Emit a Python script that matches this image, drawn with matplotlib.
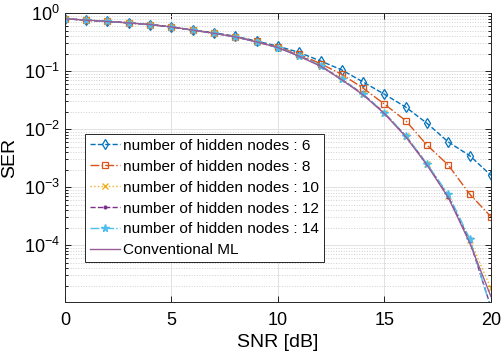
import matplotlib.pyplot as plt
from matplotlib.ticker import LogLocator, NullFormatter

plt.rcParams['font.family'] = ['Liberation Sans', 'DejaVu Sans']

snr = list(range(0, 21))

# SER
ser_6 = [0.80, 0.76, 0.72, 0.68, 0.635, 0.58, 0.51, 0.46, 0.40, 0.33, 0.27,
         0.21, 0.15, 0.105, 0.065, 0.040, 0.024, 0.0126, 0.006, 0.0035, 0.0016]
ser_8 = [0.80, 0.76, 0.72, 0.68, 0.635, 0.58, 0.51, 0.455, 0.395, 0.325, 0.26,
         0.195, 0.135, 0.088, 0.051, 0.027, 0.014, 0.0053, 0.0024, 7.6e-4, 3.1e-4]
ser_10 = [0.80, 0.76, 0.72, 0.68, 0.635, 0.58, 0.51, 0.45, 0.39, 0.32, 0.255,
          0.185, 0.125, 0.073, 0.040, 0.019, 0.0077, 0.0025, 7.0e-4, 1.25e-4, 1.8e-5]
ser_12 = [0.80, 0.76, 0.72, 0.68, 0.635, 0.58, 0.51, 0.45, 0.39, 0.32, 0.255,
          0.185, 0.125, 0.072, 0.040, 0.019, 0.0076, 0.0025, 6.8e-4, 1.2e-4, 8.5e-6]
ser_14 = [0.80, 0.76, 0.72, 0.68, 0.635, 0.58, 0.51, 0.45, 0.39, 0.32, 0.255,
          0.185, 0.125, 0.072, 0.040, 0.019, 0.0077, 0.0025, 7.5e-4, 1.3e-4, 8e-6]
ser_ml = [0.80, 0.76, 0.72, 0.68, 0.635, 0.58, 0.51, 0.45, 0.39, 0.32, 0.255,
          0.18, 0.122, 0.071, 0.039, 0.0185, 0.0074, 0.0024, 6.6e-4, 1.1e-4, 1.3e-5]

fig = plt.figure(figsize=(5.03, 3.56), dpi=100)
ax = fig.add_axes([0.129, 0.152, 0.847, 0.811])

ax.plot(snr, ser_6, '--', color='#0072BD', marker='d', mfc='none', ms=5, mew=0.9, lw=1,
        label='number of hidden nodes : 6')
ax.plot(snr, ser_8, '-.', color='#D95319', marker='s', mfc='none', ms=4, mew=0.9, lw=1,
        label='number of hidden nodes : 8')
ax.plot(snr, ser_10, ':', color='#EDB120', marker='x', ms=4.5, lw=1,
        label='number of hidden nodes : 10')
ax.plot(snr, ser_12, '--', color='#7E2F8E', marker='.', ms=4, lw=1,
        label='number of hidden nodes : 12')
ax.plot(snr, ser_14, '-.', color='#4DBEEE', marker='*', ms=5.5, lw=1,
        label='number of hidden nodes : 14')
ax.plot(snr, ser_ml, '-', color='#9A5C94', lw=1, label='Conventional ML')

ax.set_yscale('log')
ax.set_xlim(0, 20)
ax.set_ylim(1.05e-5, 1)
ax.set_xticks([0, 5, 10, 15, 20])
ax.set_yticks([1e0, 1e-1, 1e-2, 1e-3, 1e-4])
ax.yaxis.set_minor_locator(LogLocator(base=10, subs=range(2, 10), numticks=20))
ax.yaxis.set_minor_formatter(NullFormatter())

ax.grid(True, which='major', color='#E2E2E2', lw=0.7)
ax.grid(True, which='minor', axis='y', color='#D0D0D0', ls=':', lw=0.7)
ax.tick_params(direction='in', which='both', top=True, right=True,
               labelsize=13, length=4, width=0.6)
ax.tick_params(axis='x', pad=7)
ax.tick_params(which='minor', length=2)
for s in ax.spines.values():
    s.set_linewidth(0.7)
    s.set_color('#262626')

ax.set_xlabel('SNR [dB]', fontsize=14, labelpad=4)
ax.set_ylabel('SER', fontsize=14)

leg = ax.legend(loc='lower left', bbox_to_anchor=(0.047, 0.138), borderaxespad=0,
                fontsize=11.1, fancybox=False, edgecolor='#262626', framealpha=1,
                handlelength=2.0, handletextpad=0.2, labelspacing=0.45,
                borderpad=0.3)
leg.get_frame().set_linewidth(0.7)

plt.savefig('out.png', dpi=100)
